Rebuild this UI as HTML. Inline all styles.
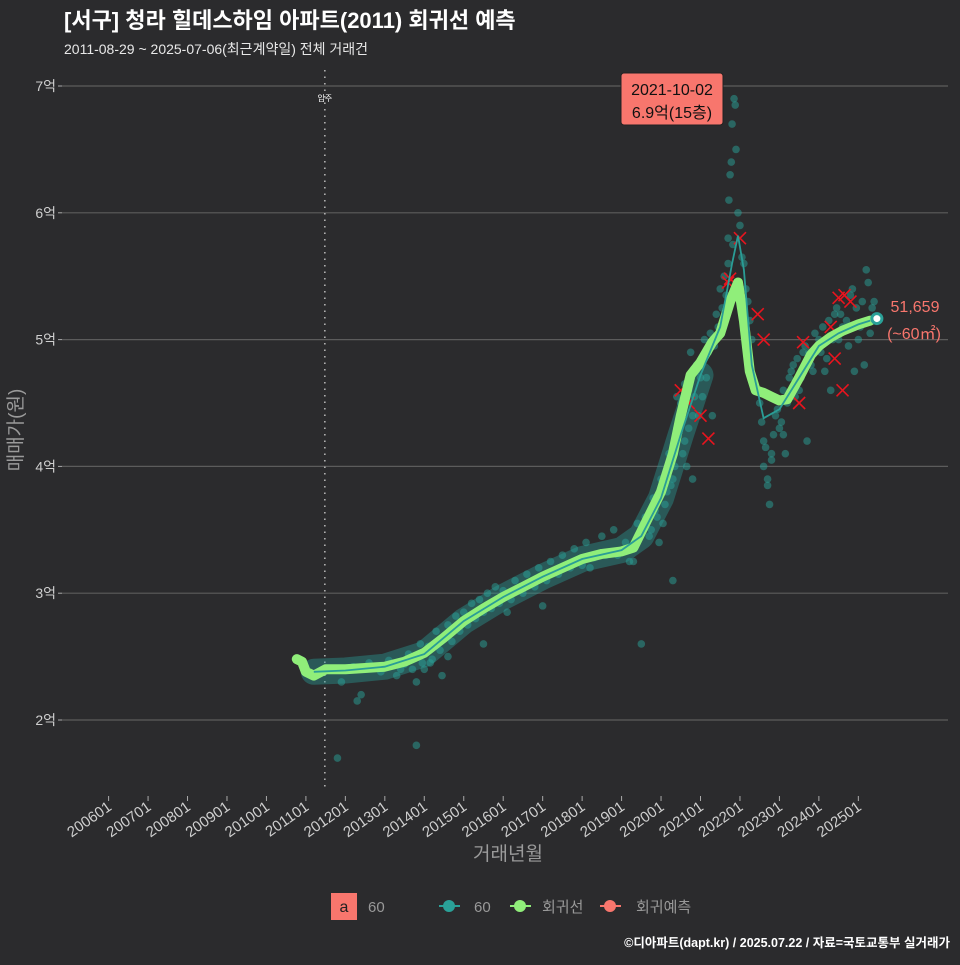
<!DOCTYPE html>
<html><head><meta charset="utf-8">
<style>
html,body{margin:0;padding:0;background:#2b2b2d;}
body{width:960px;height:960px;overflow:hidden;font-family:"Liberation Sans","Noto Sans CJK KR",sans-serif;}
svg text{font-family:"Liberation Sans","Noto Sans CJK KR",sans-serif;}
</style></head>
<body>
<svg id="chart" width="960" height="960" viewBox="0 0 960 960" xmlns="http://www.w3.org/2000/svg">
<rect x="0" y="0" width="960" height="960" fill="#2b2b2d"/>
<text x="64" y="28" fill="#ffffff" font-size="22" font-weight="bold">[서구] 청라 힐데스하임 아파트(2011) 회귀선 예측</text>
<text x="64" y="54" fill="#e8e8e8" font-size="14">2011-08-29 ~ 2025-07-06(최근계약일) 전체 거래건</text>
<g id="grid"></g>
<g id="yaxis"></g>
<g id="xaxis"></g>
<g id="marks"></g>
<text x="508" y="860" fill="#9a9a9a" font-size="19" text-anchor="middle">거래년월</text>
<text transform="translate(22,430) rotate(-90)" fill="#9a9a9a" font-size="19" text-anchor="middle">매매가(원)</text>
<g>
  <rect x="331" y="893" width="26" height="27" fill="#f8766d"/>
  <text x="344" y="912" fill="#222" font-size="16" text-anchor="middle">a</text>
  <text x="368" y="912" fill="#999" font-size="15">60</text>
  <g>
    <line x1="439" y1="906" x2="460" y2="906" stroke="#2aa198" stroke-width="2"/>
    <circle cx="449" cy="906" r="6" fill="#2aa198"/>
    <text x="474" y="912" fill="#999" font-size="15">60</text>
  </g>
  <g>
    <line x1="510" y1="906" x2="531" y2="906" stroke="#90ee7a" stroke-width="2"/>
    <circle cx="520" cy="906" r="6" fill="#90ee7a"/>
    <text x="542" y="912" fill="#999" font-size="15">회귀선</text>
  </g>
  <g>
    <line x1="600" y1="906" x2="621" y2="906" stroke="#f8766d" stroke-width="2"/>
    <circle cx="610" cy="906" r="6" fill="#f8766d"/>
    <text x="636" y="912" fill="#999" font-size="15">회귀예측</text>
  </g>
</g>
<text x="950" y="947" fill="#ffffff" font-size="12.5" font-weight="bold" text-anchor="end">©디아파트(dapt.kr) / 2025.07.22 / 자료=국토교통부 실거래가</text>
</svg>
<script>
const yTicks=[2,3,4,5,6,7];
const yTickLabels=["2억","3억","4억","5억","6억","7억"];
const xTickYears=[2006,2007,2008,2009,2010,2011,2012,2013,2014,2015,2016,2017,2018,2019,2020,2021,2022,2023,2024,2025];
const xTickLabels=["200601","200701","200801","200901","201001","201101","201201","201301","201401","201501","201601","201701","201801","201901","202001","202101","202201","202301","202401","202501"];
const moveInYear=2011.48;
const regYears=[2010.77,2010.9,2011.0,2011.2,2011.5,2012.0,2012.5,2013.0,2013.5,2014.0,2014.5,2015.0,2015.5,2016.0,2016.5,2017.0,2017.5,2018.0,2018.5,2019.0,2019.3,2019.6,2020.0,2020.3,2020.5,2020.75,2021.0,2021.3,2021.5,2021.75,2021.95,2022.1,2022.25,2022.4,2022.6,2022.8,2023.0,2023.2,2023.5,2023.8,2024.0,2024.3,2024.6,2025.0,2025.3];
const regValues=[2.48,2.46,2.38,2.35,2.40,2.40,2.41,2.42,2.46,2.53,2.65,2.78,2.88,2.97,3.05,3.13,3.20,3.27,3.31,3.33,3.36,3.55,3.80,4.10,4.40,4.72,4.82,4.98,5.05,5.30,5.45,5.15,4.75,4.60,4.58,4.55,4.52,4.53,4.70,4.88,4.95,5.02,5.07,5.12,5.15];
const trendYears=[2011.2,2012.0,2013.0,2014.0,2015.0,2016.0,2017.0,2018.0,2019.0,2019.5,2020.0,2020.5,2021.0,2021.5,2021.8,2021.95,2022.1,2022.3,2022.6,2023.0,2023.5,2024.0,2024.5,2025.0,2025.3];
const trendValues=[2.38,2.39,2.42,2.52,2.78,2.97,3.13,3.27,3.34,3.45,3.75,4.25,4.72,5.10,5.60,5.82,5.55,4.80,4.38,4.45,4.70,4.95,5.05,5.12,5.15];
const ptYears=[2011.9,2012.2,2012.4,2012.6,2012.9,2013.1,2013.3,2013.5,2013.6,2013.8,2013.9,2014.0,2014.1,2014.2,2014.3,2014.4,2014.5,2014.6,2014.7,2014.8,2014.9,2015.0,2015.1,2015.2,2015.3,2015.4,2015.5,2015.6,2015.7,2015.8,2015.9,2016.0,2016.2,2016.3,2016.5,2016.6,2016.8,2016.9,2017.1,2017.2,2017.4,2017.5,2017.7,2017.8,2018.0,2018.1,2018.3,2018.5,2018.6,2018.8,2018.9,2019.1,2019.3,2019.4,2019.6,2019.7,2019.8,2019.9,2020.0,2020.1,2020.2,2020.3,2020.4,2020.5,2020.6,2020.7,2020.8,2020.9,2021.0,2021.1,2021.2,2021.4,2021.5,2021.6,2021.7,2021.75,2021.8,2021.85,2021.9,2021.95,2022.0,2022.1,2022.2,2022.3,2022.5,2022.6,2022.7,2022.8,2022.9,2023.0,2023.1,2023.2,2023.3,2023.5,2023.6,2023.8,2024.0,2024.2,2024.4,2024.6,2024.8,2025.0,2025.2,2025.4,2024.3,2023.7,2022.75,2015.5,2017.0,2019.5,2020.3,2013.8,2012.3,2011.8,2021.3,2020.8,2013.4,2014.6,2016.1,2018.2,2019.2,2020.15,2020.65,2021.05,2023.15,2024.9,
2020.35,2020.4,2020.45,2020.55,2020.6,2020.7,2020.75,2020.85,2020.9,2020.95,2021.1,2021.15,2021.25,2021.35,2021.45,2021.55,2021.65,2021.7,2021.72,2021.78,2021.82,2021.88,2022.05,2022.15,2022.25,2022.55,2022.6,2022.65,2022.7,2022.8,2022.85,2022.95,2023.05,2023.1,2023.2,2023.25,2023.35,2023.4,2023.45,2023.55,2023.65,2023.75,2023.85,2023.9,2024.05,2024.1,2024.15,2024.25,2024.35,2024.45,2024.5,2024.55,2024.7,2024.75,2024.85,2024.95,2025.05,2025.1,2025.15,2025.25,2025.3,2025.35,2019.75,2019.85,2019.95,2020.05,2020.25,2014.15,2014.35,2014.45,2013.95,2013.7];
const ptValues=[2.30,2.42,2.20,2.45,2.38,2.47,2.35,2.44,2.52,2.30,2.60,2.40,2.58,2.48,2.70,2.55,2.65,2.75,2.62,2.82,2.70,2.85,2.75,2.92,2.80,2.95,2.85,3.00,2.88,3.05,2.92,3.02,2.95,3.10,3.00,3.15,3.05,3.20,3.10,3.25,3.15,3.30,3.20,3.35,3.22,3.40,3.28,3.45,3.30,3.50,3.30,3.40,3.25,3.55,3.60,3.45,3.75,3.60,3.90,3.70,4.10,3.90,4.30,4.50,4.20,4.60,4.40,4.80,4.70,5.00,4.90,5.20,5.40,5.50,5.80,6.30,6.70,6.90,6.50,6.00,5.90,5.60,5.30,5.00,4.50,4.20,3.90,4.10,4.40,4.30,4.60,4.50,4.75,4.60,4.90,4.80,5.00,4.85,5.20,5.10,5.35,5.00,5.55,5.30,4.60,4.20,3.70,2.60,2.90,2.60,3.10,1.80,2.15,1.70,4.40,3.90,2.40,2.50,2.85,3.20,3.25,3.80,4.00,4.55,4.10,4.75,
4.00,4.55,4.35,4.10,4.65,4.30,4.90,4.55,4.75,4.40,4.85,4.70,5.05,4.95,5.10,5.25,5.35,5.60,6.10,6.40,5.75,6.85,5.65,5.40,5.15,4.35,4.00,4.15,3.85,4.05,4.25,4.45,4.35,4.25,4.55,4.70,4.80,4.55,4.85,4.70,4.95,4.90,4.75,5.05,4.90,5.10,4.75,5.15,5.00,5.25,5.00,5.20,5.15,4.95,5.40,5.25,5.10,5.30,4.80,5.45,5.05,5.25,3.50,3.65,3.40,3.55,3.85,2.45,2.60,2.35,2.45,2.40];
const fcYears=[2020.7,2020.5,2021.2,2021.0,2021.7,2021.75,2022.0,2022.45,2022.6,2023.6,2023.5,2024.3,2024.5,2024.65,2024.6,2024.4,2024.8];
const fcValues=[4.50,4.60,4.22,4.40,5.45,5.48,5.80,5.20,5.00,4.98,4.50,5.10,5.33,5.35,4.60,4.85,5.30];
const lastYear=2025.47, lastValue=5.1659;

const NS="http://www.w3.org/2000/svg";
const X=t=>108.6+(t-2006)*39.46;
const Y=v=>720-(v-2)*126.8;
function mk(tag,attrs,parent){const e=document.createElementNS(NS,tag);for(const k in attrs)e.setAttribute(k,attrs[k]);parent.appendChild(e);return e;}
const grid=document.getElementById('grid'),yax=document.getElementById('yaxis'),xax=document.getElementById('xaxis'),marks=document.getElementById('marks');
yTicks.forEach((v,i)=>{
  const l=mk('line',{x1:62,x2:948,y1:Y(v),y2:Y(v),stroke:'#5c5c5c','stroke-width':1.2},grid);
  
  
  mk('line',{x1:58,x2:62,y1:Y(v),y2:Y(v),stroke:'#aaa'},yax);
  const t=mk('text',{x:56,y:Y(v)+5,fill:'#cfcfcf','font-size':14,'text-anchor':'end'},yax);
  t.textContent=yTickLabels[i];
  
  
});
xTickYears.forEach((yr,i)=>{
  const x=X(yr);
  mk('line',{x1:x,x2:x,y1:796,y2:801,stroke:'#aaa'},xax);
  const t=mk('text',{transform:`translate(${x+4},${809}) rotate(-35)`,fill:'#cfcfcf','font-size':15,'text-anchor':'end'},xax);
  t.textContent=xTickLabels[i];
  
  
});
const mv=mk('line',{x1:X(moveInYear),x2:X(moveInYear),y1:70,y2:790,stroke:'#bbb','stroke-width':1.5,'stroke-dasharray':'1.5 5'},marks);


const mvt=mk('text',{x:X(moveInYear),y:101,fill:'#fff','font-size':8,'text-anchor':'middle'},marks);
mvt.textContent='입주';


function pathOf(xs,vs){return xs.map((t,i)=>(i?'L':'M')+X(t).toFixed(1)+' '+Y(vs[i]).toFixed(1)).join(' ');}
const cloud=mk('path',{d:pathOf(trendYears.slice(0,13),trendValues.slice(0,13)),fill:'none',stroke:'#2aa198','stroke-opacity':0.4,'stroke-width':26,'stroke-linecap':'round','stroke-linejoin':'round'},marks);


ptYears.forEach((t,i)=>{
  const c=mk('circle',{cx:X(t),cy:Y(ptValues[i]),r:3.8,fill:'#2aa198','fill-opacity':0.5},marks);
  
  
});
fcYears.forEach((t,i)=>{
  const x=X(t),y=Y(fcValues[i]);
  const p=mk('path',{d:`M${x-6} ${y-6}L${x+6} ${y+6}M${x+6} ${y-6}L${x-6} ${y+6}`,stroke:'#e8141e','stroke-width':1.6},marks);
  
  
});
const reg=mk('path',{d:pathOf(regYears,regValues),fill:'none',stroke:'#90ee7a','stroke-width':10,'stroke-linecap':'round','stroke-linejoin':'round'},marks);


const tr=mk('path',{d:pathOf(trendYears,trendValues),fill:'none',stroke:'#2a9d96','stroke-width':1.8},marks);


const lp=mk('circle',{cx:X(lastYear),cy:Y(lastValue),r:5,fill:'#fff',stroke:'#2aa198','stroke-width':3},marks);


const l1=mk('text',{x:915,y:312,fill:'#f8766d','font-size':16,'text-anchor':'middle'},marks);
l1.textContent='51,659';


const l2=mk('text',{x:914,y:339,fill:'#f8766d','font-size':16,'text-anchor':'middle'},marks);
l2.textContent='(~60㎡)';


const ann=mk('g',{},marks);


mk('rect',{x:621,y:73,width:102,height:52,rx:3,fill:'#f8766d',stroke:'#222','stroke-width':1},ann);
const a1=mk('text',{x:672,y:95,fill:'#111','font-size':16,'text-anchor':'middle'},ann);a1.textContent='2021-10-02';
const a2=mk('text',{x:672,y:118,fill:'#111','font-size':16,'text-anchor':'middle'},ann);a2.textContent='6.9억(15층)';
</script>
</body></html>
